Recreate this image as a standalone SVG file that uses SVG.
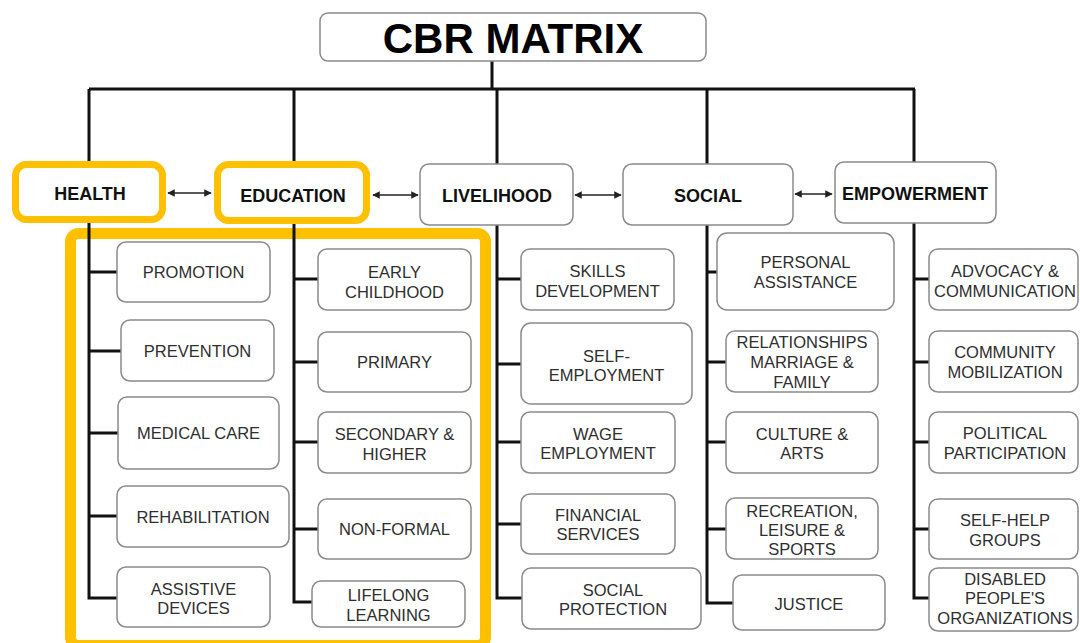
<svg xmlns="http://www.w3.org/2000/svg" width="1080" height="643" viewBox="0 0 1080 643">
<style>
.bg{fill:#fff}
.box{fill:#fff;stroke:#8a8a8a;stroke-width:1.5}
.t{font-family:"Liberation Sans",Arial,sans-serif;font-size:16.5px;fill:#2e2e2e;text-anchor:middle}
.h{font-family:"Liberation Sans",Arial,sans-serif;font-size:18px;font-weight:bold;fill:#111;text-anchor:middle}
.title{font-family:"Liberation Sans",Arial,sans-serif;font-size:42px;font-weight:bold;fill:#000;text-anchor:middle}
.ln{fill:none;stroke:#111;stroke-width:3}
.ar{fill:none;stroke:#222;stroke-width:1.5}
.hl{fill:none;stroke:#FFC000}
</style>
<defs>
<marker id="ah" viewBox="0 0 10 10" refX="9" refY="5" markerWidth="5" markerHeight="5" orient="auto-start-reverse" markerUnits="strokeWidth">
<path d="M0,0 L10,5 L0,10 z" fill="#222"/>
</marker>
</defs>
<rect class="bg" x="0" y="0" width="1080" height="643"/>

<g id="highlights">
<rect class="hl" x="70.5" y="233.5" width="415" height="412" rx="8" stroke-width="11"/>
</g>

<g id="connectors">
<path class="ln" d="M492,61 V89 M89,89 H915"/>
<path class="ln" d="M89,89 V598 H117 M89,272 H117 M89,351 H121 M89,433 H118 M89,516 H117"/>
<path class="ln" d="M294,89 V602 H312 M294,279 H318 M294,362 H318 M294,442 H318 M294,529 H318"/>
<path class="ln" d="M497,89 V598 H522 M497,279 H521 M497,364 H521 M497,442 H521 M497,524 H521"/>
<path class="ln" d="M707,89 V603 H733 M707,272 H717 M707,362 H726 M707,442 H726 M707,529 H726"/>
<path class="ln" d="M914,89 V598 H929 M914,279 H929 M914,362 H929 M914,442 H929 M914,529 H929"/>
<path class="ar" d="M168,193 H211" marker-start="url(#ah)" marker-end="url(#ah)"/>
<path class="ar" d="M373,195 H418" marker-start="url(#ah)" marker-end="url(#ah)"/>
<path class="ar" d="M575,195 H621" marker-start="url(#ah)" marker-end="url(#ah)"/>
<path class="ar" d="M795,194 H832" marker-start="url(#ah)" marker-end="url(#ah)"/>
</g>

<g id="title">
<rect class="box" x="320" y="13" width="386" height="48" rx="8"/>
<text class="title" x="513" y="53">CBR MATRIX</text>
</g>

<g id="health">
<rect x="15.5" y="164.5" width="147" height="55" rx="11" fill="#fff" stroke="#FFC000" stroke-width="7"/>
<text class="h" x="90" y="200">HEALTH</text>
</g>
<g id="education">
<rect x="217.5" y="164.5" width="149" height="56" rx="11" fill="#fff" stroke="#FFC000" stroke-width="7"/>
<text class="h" x="293" y="202">EDUCATION</text>
</g>
<g id="livelihood">
<rect class="box" x="420" y="164" width="153" height="61" rx="9"/>
<text class="h" x="497" y="202">LIVELIHOOD</text>
</g>
<g id="social">
<rect class="box" x="623" y="164" width="170" height="61" rx="9"/>
<text class="h" x="708" y="202">SOCIAL</text>
</g>
<g id="empowerment">
<rect class="box" x="835" y="162" width="161" height="61" rx="9"/>
<text class="h" x="915" y="200">EMPOWERMENT</text>
</g>

<g id="promotion"><rect class="box" x="117" y="242" width="153" height="60" rx="9"/><text class="t" x="193.5" y="278">PROMOTION</text></g>
<g id="prevention"><rect class="box" x="121" y="320" width="153" height="61" rx="9"/><text class="t" x="197.5" y="357">PREVENTION</text></g>
<g id="medical-care"><rect class="box" x="118" y="397" width="161" height="72" rx="9"/><text class="t" x="198.5" y="439">MEDICAL CARE</text></g>
<g id="rehabilitation"><rect class="box" x="117" y="486" width="172" height="61" rx="9"/><text class="t" x="203" y="523">REHABILITATION</text></g>
<g id="assistive-devices"><rect class="box" x="117" y="567" width="153" height="60" rx="9"/><text class="t" x="193.5" y="595">ASSISTIVE</text><text class="t" x="193.5" y="614">DEVICES</text></g>

<g id="early-childhood"><rect class="box" x="318" y="249" width="153" height="61" rx="9"/><text class="t" x="394.5" y="278">EARLY</text><text class="t" x="394.5" y="298">CHILDHOOD</text></g>
<g id="primary"><rect class="box" x="318" y="332" width="153" height="60" rx="9"/><text class="t" x="394.5" y="368">PRIMARY</text></g>
<g id="secondary-higher"><rect class="box" x="318" y="412" width="153" height="61" rx="9"/><text class="t" x="394.5" y="440">SECONDARY &amp;</text><text class="t" x="394.5" y="460">HIGHER</text></g>
<g id="non-formal"><rect class="box" x="318" y="499" width="153" height="60" rx="9"/><text class="t" x="394.5" y="535">NON-FORMAL</text></g>
<g id="lifelong-learning"><rect class="box" x="312" y="581" width="153" height="46" rx="9"/><text class="t" x="388.5" y="601">LIFELONG</text><text class="t" x="388.5" y="621">LEARNING</text></g>

<g id="skills-development"><rect class="box" x="521" y="249" width="153" height="61" rx="9"/><text class="t" x="597.5" y="277">SKILLS</text><text class="t" x="597.5" y="297">DEVELOPMENT</text></g>
<g id="self-employment"><rect class="box" x="521" y="323" width="171" height="81" rx="10"/><text class="t" x="606.5" y="362">SELF-</text><text class="t" x="606.5" y="381">EMPLOYMENT</text></g>
<g id="wage-employment"><rect class="box" x="521" y="412" width="154" height="61" rx="9"/><text class="t" x="598" y="440">WAGE</text><text class="t" x="598" y="459">EMPLOYMENT</text></g>
<g id="financial-services"><rect class="box" x="521" y="494" width="154" height="60" rx="9"/><text class="t" x="598" y="521">FINANCIAL</text><text class="t" x="598" y="540">SERVICES</text></g>
<g id="social-protection"><rect class="box" x="522" y="568" width="179" height="61" rx="9"/><text class="t" x="613" y="596">SOCIAL</text><text class="t" x="613" y="615">PROTECTION</text></g>

<g id="personal-assistance"><rect class="box" x="717" y="233" width="177" height="77" rx="10"/><text class="t" x="805.5" y="268">PERSONAL</text><text class="t" x="805.5" y="288">ASSISTANCE</text></g>
<g id="relationships"><rect class="box" x="726" y="331" width="152" height="61" rx="9"/><text class="t" x="802" y="348">RELATIONSHIPS</text><text class="t" x="802" y="368">MARRIAGE &amp;</text><text class="t" x="802" y="388">FAMILY</text></g>
<g id="culture-arts"><rect class="box" x="726" y="412" width="152" height="61" rx="9"/><text class="t" x="802" y="440">CULTURE &amp;</text><text class="t" x="802" y="459">ARTS</text></g>
<g id="recreation"><rect class="box" x="726" y="498" width="152" height="61" rx="9"/><text class="t" x="802" y="517">RECREATION,</text><text class="t" x="802" y="536">LEISURE &amp;</text><text class="t" x="802" y="555">SPORTS</text></g>
<g id="justice"><rect class="box" x="733" y="575" width="152" height="55" rx="9"/><text class="t" x="809" y="610">JUSTICE</text></g>

<g id="advocacy"><rect class="box" x="929" y="249" width="149" height="61" rx="9"/><text class="t" x="1005" y="277">ADVOCACY &amp;</text><text class="t" x="1005" y="297">COMMUNICATION</text></g>
<g id="community-mobilization"><rect class="box" x="929" y="331" width="149" height="61" rx="9"/><text class="t" x="1005" y="358">COMMUNITY</text><text class="t" x="1005" y="378">MOBILIZATION</text></g>
<g id="political-participation"><rect class="box" x="929" y="412" width="149" height="61" rx="9"/><text class="t" x="1005" y="439">POLITICAL</text><text class="t" x="1005" y="459">PARTICIPATION</text></g>
<g id="self-help-groups"><rect class="box" x="929" y="499" width="149" height="60" rx="9"/><text class="t" x="1005" y="526">SELF-HELP</text><text class="t" x="1005" y="546">GROUPS</text></g>
<g id="dpo"><rect class="box" x="929" y="568" width="149" height="63" rx="9"/><text class="t" x="1005" y="585">DISABLED</text><text class="t" x="1005" y="604">PEOPLE'S</text><text class="t" x="1005" y="624">ORGANIZATIONS</text></g>
</svg>
